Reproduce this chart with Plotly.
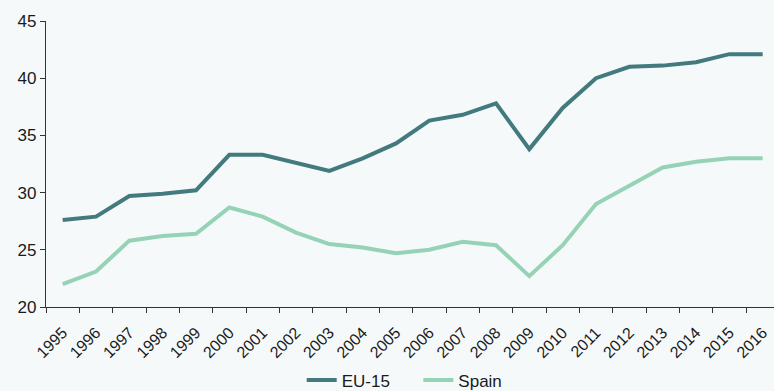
import plotly.graph_objects as go

years = [str(y) for y in range(1995, 2017)]
eu15 = [27.6, 27.9, 29.7, 29.9, 30.2, 33.3, 33.3, 32.6, 31.9, 33.0, 34.3,
        36.3, 36.8, 37.8, 33.8, 37.4, 40.0, 41.0, 41.1, 41.4, 42.1, 42.1]
spain = [22.0, 23.1, 25.8, 26.2, 26.4, 28.7, 27.9, 26.5, 25.5, 25.2, 24.7,
         25.0, 25.7, 25.4, 22.7, 25.4, 29.0, 30.6, 32.2, 32.7, 33.0, 33.0]

BG = "#f5f9fa"
FONT = "Liberation Sans, Arial, sans-serif"

fig = go.Figure()
fig.add_trace(go.Scatter(x=years, y=eu15, name="EU-15", mode="lines",
                         line=dict(color="#427a7e", width=4), legend="legend"))
fig.add_trace(go.Scatter(x=years, y=spain, name="Spain", mode="lines",
                         line=dict(color="#96d3b6", width=4), legend="legend2"))

# two single-entry legends so each entry can sit at its own spot along the bottom
legend_common = dict(orientation="h", xanchor="left", yref="container", xref="container",
                     y=0.027, yanchor="middle", font=dict(size=17),
                     bgcolor="rgba(0,0,0,0)", itemwidth=30)

fig.update_layout(
    width=774, height=391,
    paper_bgcolor=BG, plot_bgcolor=BG,
    margin=dict(l=46, r=0, t=21, b=84, autoexpand=False),
    font=dict(family=FONT, color="#1a1a1a"),
    showlegend=True,
    legend=dict(x=0.3898, **legend_common),
    legend2=dict(x=0.5405, **legend_common),
)
fig.update_xaxes(
    type="category", tickson="boundaries", tickangle=-45, automargin=False,
    range=[-0.5, 21.34],
    showline=True, linecolor="#333333", linewidth=1.2,
    ticks="outside", ticklen=5, tickcolor="#333333", ticklabelstandoff=9,
    showgrid=False, zeroline=False, tickfont=dict(size=16),
)
fig.update_yaxes(
    range=[20, 45], dtick=5, automargin=False,
    showline=True, linecolor="#333333", linewidth=1.2,
    ticks="outside", ticklen=5, tickcolor="#333333",
    showgrid=False, zeroline=False, tickfont=dict(size=17),
)

fig.write_html("out.html")
